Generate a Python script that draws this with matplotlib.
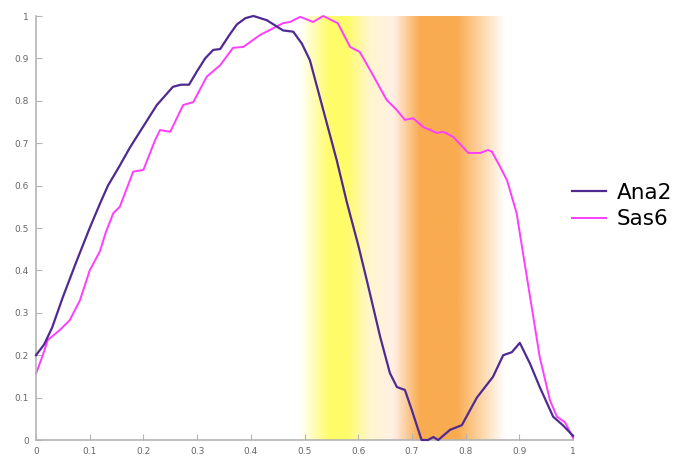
import numpy as np
import matplotlib
matplotlib.use("Agg")
import matplotlib.pyplot as plt
from matplotlib.colors import LinearSegmentedColormap

# Ana2 profile (normalised position vs normalised intensity)
ana2_x = [0.0, 0.015, 0.03, 0.05, 0.075, 0.1, 0.12, 0.134, 0.155, 0.175, 0.2, 0.225,
          0.255, 0.27, 0.285, 0.3, 0.315, 0.33, 0.343, 0.36, 0.374, 0.39, 0.405,
          0.43, 0.46, 0.479, 0.495, 0.51, 0.535, 0.56, 0.579, 0.6, 0.616, 0.641,
          0.659, 0.672, 0.687, 0.7, 0.718, 0.73, 0.74, 0.749, 0.771, 0.793, 0.821,
          0.851, 0.87, 0.886, 0.901, 0.92, 0.938, 0.963, 0.981, 1.0]
ana2_y = [0.2, 0.225, 0.265, 0.337, 0.42, 0.5, 0.56, 0.6, 0.645, 0.69, 0.74, 0.79,
          0.833, 0.838, 0.838, 0.87, 0.9, 0.92, 0.922, 0.955, 0.98, 0.995, 1.0,
          0.99, 0.966, 0.963, 0.935, 0.896, 0.778, 0.66, 0.56, 0.46, 0.377, 0.243,
          0.158, 0.125, 0.118, 0.07, 0.0, 0.0, 0.007, 0.0, 0.024, 0.035, 0.1,
          0.149, 0.2, 0.207, 0.229, 0.18, 0.125, 0.055, 0.035, 0.01]

# Sas6 profile
sas6_x = [0.0, 0.014, 0.022, 0.045, 0.063, 0.082, 0.1, 0.119, 0.13, 0.144, 0.156,
          0.181, 0.2, 0.222, 0.231, 0.25, 0.274, 0.293, 0.318, 0.343, 0.367, 0.386,
          0.417, 0.46, 0.473, 0.492, 0.516, 0.535, 0.562, 0.585, 0.603, 0.622,
          0.653, 0.672, 0.687, 0.702, 0.721, 0.747, 0.758, 0.777, 0.805, 0.827,
          0.842, 0.849, 0.864, 0.877, 0.895, 0.907, 0.92, 0.938, 0.957, 0.97, 0.985, 1.0]
sas6_y = [0.156, 0.205, 0.236, 0.26, 0.283, 0.33, 0.4, 0.445, 0.49, 0.535, 0.55,
          0.633, 0.637, 0.708, 0.731, 0.727, 0.79, 0.797, 0.857, 0.884, 0.925, 0.927,
          0.955, 0.983, 0.986, 0.998, 0.986, 1.0, 0.983, 0.927, 0.915, 0.873,
          0.802, 0.778, 0.755, 0.759, 0.738, 0.724, 0.727, 0.715, 0.677, 0.677,
          0.684, 0.68, 0.645, 0.613, 0.535, 0.44, 0.338, 0.196, 0.094, 0.055, 0.042, 0.005]

ticks = [0, 0.1, 0.2, 0.3, 0.4, 0.5, 0.6, 0.7, 0.8, 0.9, 1]
tick_labels = ["0", "0.1", "0.2", "0.3", "0.4", "0.5", "0.6", "0.7", "0.8", "0.9", "1"]

# background band: yellow then orange
band_stops = [(0.49, "#ffffff"), (0.545, "#fffc6a"), (0.58, "#fffc6a"),
              (0.62, "#fff6cc"), (0.665, "#fff0e6"), (0.715, "#f9ab50"),
              (0.785, "#f9ab50"), (0.83, "#fdd6a8"), (0.875, "#ffffff")]

fig = plt.figure(figsize=(6.91, 4.66), dpi=100)
ax = fig.add_axes([36 / 691, 26 / 466, 537 / 691, 424 / 466])

x0, x1 = band_stops[0][0], band_stops[-1][0]
cmap = LinearSegmentedColormap.from_list(
    "band", [((p - x0) / (x1 - x0), c) for p, c in band_stops])
grad = np.linspace(0, 1, 400).reshape(1, -1)
ax.imshow(grad, cmap=cmap, extent=[x0, x1, 0, 1], aspect="auto", zorder=0,
          interpolation="bilinear")

ax.plot(ana2_x, ana2_y, color="#4f2a92", lw=1.6, label="Ana2", clip_on=False, zorder=3)
ax.plot(sas6_x, sas6_y, color="#ff3dff", lw=1.4, label="Sas6", clip_on=False, zorder=2)

ax.set_xlim(0, 1)
ax.set_ylim(0, 1)
ax.set_xticks(ticks)
ax.set_xticklabels(tick_labels)
ax.set_yticks(ticks)
ax.set_yticklabels(tick_labels)
for s in ["top", "right"]:
    ax.spines[s].set_visible(False)
for s in ["left", "bottom"]:
    ax.spines[s].set_color("#b4b4b4")
    ax.spines[s].set_linewidth(1.2)
ax.tick_params(direction="in", length=4, width=0.8, color="#b4b4b4",
               labelsize=6.5, labelcolor="#666666", pad=5)

ax.legend(loc="center left", bbox_to_anchor=(0.983, 0.552), frameon=False,
          borderaxespad=0, handlelength=1.55, handletextpad=0.5, labelspacing=0.3,
          prop={"family": "DejaVu Sans", "size": 15.5})

fig.savefig("out.png", dpi=100)
